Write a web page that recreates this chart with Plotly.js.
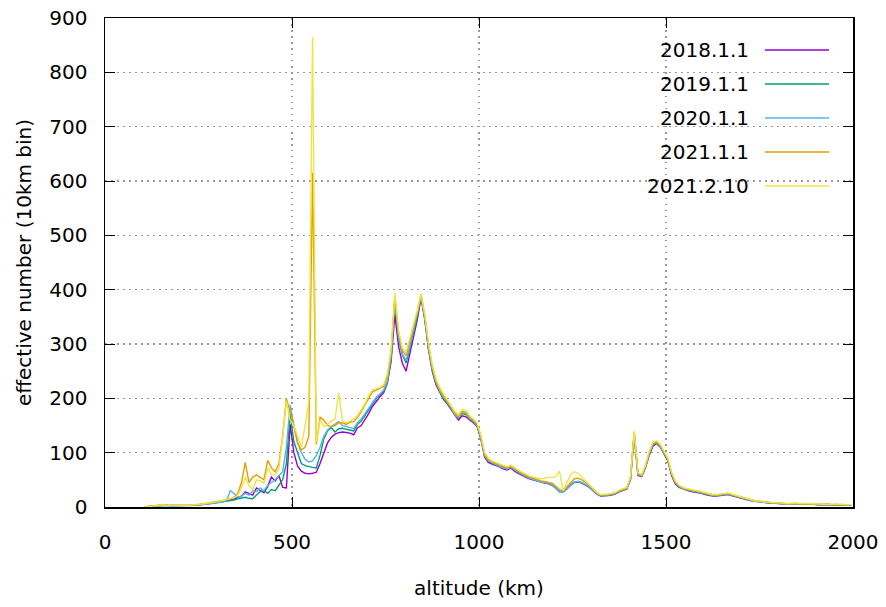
<!DOCTYPE html>
<html>
<head>
<meta charset="utf-8">
<script src="https://cdn.plot.ly/plotly-3.0.1.min.js"></script>
<style>html,body{margin:0;padding:0;background:#fff;}#chart{width:886px;height:607px;}</style>
</head>
<body>
<div id="chart"></div>
<script>
// altitude bin centres (km), 10 km bins
const altitude = [
105,115,125,135,145,155,165,175,185,195,
205,215,225,235,245,255,265,275,285,295,
305,315,325,335,345,355,365,375,385,395,
405,415,425,435,445,455,465,475,485,495,
505,515,525,535,545,555,565,575,585,595,
605,615,625,635,645,655,665,675,685,695,
705,715,725,735,745,755,765,775,785,795,
805,815,825,835,845,855,865,875,885,895,
905,915,925,935,945,955,965,975,985,995,
1005,1015,1025,1035,1045,1055,1065,1075,1085,1095,
1105,1115,1125,1135,1145,1155,1165,1175,1185,1195,
1205,1215,1225,1235,1245,1255,1265,1275,1285,1295,
1305,1315,1325,1335,1345,1355,1365,1375,1385,1395,
1405,1415,1425,1435,1445,1455,1465,1475,1485,1495,
1505,1515,1525,1535,1545,1555,1565,1575,1585,1595,
1605,1615,1625,1635,1645,1655,1665,1675,1685,1695,
1705,1715,1725,1735,1745,1755,1765,1775,1785,1795,
1805,1815,1825,1835,1845,1855,1865,1875,1885,1895,
1905,1915,1925,1935,1945,1955,1965,1975,1985,1995];

const s2018 = [
0,1,1,2,3,3,3,2,2,2,
2,2,3,3,4,4,5,6,7,8,
9,10,12,13,15,17,20,28,25,22,
35,30,26,38,55,48,58,36,35,152,
100,75,66,62,61,62,64,80,100,118,
128,134,137,138,137,136,133,146,150,160,
172,185,195,203,210,228,268,355,295,265,
250,282,315,345,385,345,290,250,225,210,
198,190,180,168,160,168,166,160,155,148,
125,92,82,79,77,74,70,68,72,66,
62,58,55,52,50,47,45,44,43,40,
35,28,28,33,40,45,46,44,40,36,
30,24,20,20,21,22,24,28,31,33,
50,132,58,56,72,95,112,117,110,98,
85,58,42,36,33,31,29,28,27,25,
23,21,20,20,21,22,23,21,19,17,
15,13,12,11,10,9,8,8,7,7,
6,6,6,5,6,6,5,5,5,5,
4,4,5,4,4,3,4,4,3,3];

const s2019 = [
0,1,1,2,2,3,3,2,2,2,
2,2,2,3,3,4,5,5,6,7,
8,9,10,12,13,15,16,18,16,15,
22,28,30,25,32,30,40,50,80,172,
120,100,80,76,74,73,72,95,125,140,
146,138,144,145,143,142,140,152,158,168,
178,190,200,207,213,230,275,380,310,280,
265,292,322,350,388,348,292,252,228,212,
200,192,182,170,163,172,170,162,157,150,
128,95,85,81,78,75,72,70,74,68,
64,60,56,53,51,48,46,45,44,41,
35,29,29,34,41,46,47,45,41,37,
31,25,21,21,22,23,25,29,32,34,
52,135,60,57,73,97,114,118,111,99,
86,60,44,37,34,32,30,29,28,26,
24,22,21,21,22,23,24,22,20,18,
16,14,12,11,10,9,9,8,7,7,
6,6,6,6,6,6,5,6,5,5,
5,4,5,5,4,4,4,4,4,3];

const s2020 = [
0,1,1,2,2,3,3,2,2,2,
2,2,3,3,4,4,5,6,6,7,
8,9,12,30,25,18,20,25,22,30,
28,35,30,40,45,50,58,65,110,188,
150,118,100,88,83,85,95,110,130,142,
148,152,157,150,148,146,144,155,162,172,
182,193,202,208,215,232,278,385,312,282,
270,295,325,352,388,350,294,254,230,214,
202,193,183,171,164,174,172,163,158,150,
128,95,85,81,78,75,72,70,73,68,
64,60,56,53,51,48,46,45,44,41,
35,28,28,34,41,46,47,45,41,37,
31,25,21,21,22,23,25,29,32,34,
52,136,60,57,74,98,115,119,112,100,
87,61,45,38,34,32,30,29,28,26,
24,22,21,21,22,23,24,22,20,18,
16,14,12,11,10,9,9,8,7,7,
6,6,6,6,6,6,5,6,5,5,
5,4,5,5,4,4,4,4,4,3];

const s2021a = [
0,1,1,2,3,4,3,3,2,2,
2,3,3,4,4,5,6,7,8,9,
10,12,14,15,18,25,45,82,45,55,
59,55,50,86,72,65,80,130,200,175,
150,118,105,110,130,615,115,165,160,150,
148,150,155,155,152,156,157,165,175,188,
200,212,215,218,222,240,285,388,320,288,
278,305,330,358,392,352,298,258,232,216,
204,195,185,173,166,176,174,165,160,152,
130,97,87,83,80,77,74,72,75,70,
66,62,58,55,53,50,48,47,46,44,
38,32,30,38,46,52,53,50,45,40,
33,26,22,22,23,24,26,30,33,35,
53,138,62,58,75,100,117,120,113,101,
88,62,46,39,35,33,31,30,29,27,
25,23,22,22,23,24,25,23,21,19,
17,15,13,12,11,10,9,8,8,7,
7,6,6,6,7,6,6,6,5,5,
5,5,5,5,4,5,4,4,4,4];

const s2021b = [
0,1,2,2,3,4,3,3,2,2,
2,3,3,4,4,5,6,7,8,9,
10,12,14,15,17,22,35,55,40,32,
50,48,44,72,60,58,70,129,195,160,
150,130,110,150,195,865,120,160,148,152,
158,162,210,157,155,158,162,168,178,190,
205,215,218,220,225,245,290,394,325,292,
285,310,335,362,392,355,302,262,236,220,
208,198,188,176,170,180,178,168,162,155,
132,100,90,85,82,79,76,74,77,72,
68,64,60,57,55,53,52,53,55,54,
56,66,30,45,60,65,62,55,48,42,
34,27,23,23,24,25,27,31,34,36,
55,140,63,60,77,102,119,122,115,103,
90,64,48,40,36,34,32,31,30,28,
26,24,23,23,24,25,26,24,22,20,
18,15,13,12,11,10,9,9,8,8,
7,7,6,7,7,6,7,6,6,6,
6,5,5,6,5,5,5,5,4,5];

const seriesNames = ["2018.1.1", "2019.1.1", "2020.1.1", "2021.1.1", "2021.2.10"];
const seriesValues = [s2018, s2019, s2020, s2021a, s2021b];
const seriesColors = ["#9400d3", "#009e73", "#56b4e9", "#e69f00", "#f0e442"];

const xTickVals = [0, 500, 1000, 1500, 2000];
const yTickVals = [0, 100, 200, 300, 400, 500, 600, 700, 800, 900];

const FONT = "DejaVu Sans, sans-serif";

const traces = seriesValues.map((vals, i) => ({
  type: "scatter",
  mode: "lines",
  x: altitude,
  y: vals,
  name: seriesNames[i],
  line: {color: seriesColors[i], width: 1.4},
  hoverinfo: "skip"
}));

// gnuplot-style legend: right-aligned text, line sample to its right
const L = 105, R = 33, T = 18, B = 100, W = 886, H = 607;
const pw = W - L - R, ph = H - T - B;
const annotations = [], shapes = [];
seriesNames.forEach((nm, i) => {
  const py = 50 + 34 * i;
  const yp = (H - B - py) / ph;
  annotations.push({
    xref: "paper", yref: "paper", x: (751 - L) / pw, y: yp,
    xanchor: "right", yanchor: "middle", showarrow: false,
    text: nm, font: {family: FONT, size: 20, color: "#000"}
  });
  shapes.push({
    type: "line", xref: "paper", yref: "paper",
    x0: (765 - L) / pw, x1: (829 - L) / pw, y0: yp, y1: yp,
    line: {color: seriesColors[i], width: 1.5}
  });
});

const layout = {
  width: W, height: H,
  margin: {l: L, r: R, t: T, b: B},
  paper_bgcolor: "#fff", plot_bgcolor: "#fff",
  showlegend: false,
  font: {family: FONT, size: 20, color: "#000"},
  xaxis: {
    range: [0, 2000], tickvals: xTickVals, ticktext: xTickVals.map(String),
    ticks: "inside", ticklen: 10, tickwidth: 1, tickcolor: "#000",
    mirror: "allticks", showline: true, linecolor: "#000", linewidth: 1.5,
    showgrid: true, gridcolor: "#999999", griddash: "1.5px,4.5px", gridwidth: 1.2,
    zeroline: false, ticklabelstandoff: 16,
    tickfont: {family: FONT, size: 20, color: "#000"},
    title: {text: "altitude (km)", font: {family: FONT, size: 20, color: "#000"}, standoff: 28}
  },
  yaxis: {
    range: [0, 900], tickvals: yTickVals, ticktext: yTickVals.map(String),
    ticks: "inside", ticklen: 10, tickwidth: 1, tickcolor: "#000",
    mirror: "allticks", showline: true, linecolor: "#000", linewidth: 1.5,
    showgrid: true, gridcolor: "#999999", griddash: "1.5px,4.5px", gridwidth: 1.2,
    zeroline: false, ticklabelstandoff: 12,
    tickfont: {family: FONT, size: 20, color: "#000"},
    title: {text: "effective number (10km bin)", font: {family: FONT, size: 20, color: "#000"}, standoff: 12}
  },
  annotations: annotations,
  shapes: shapes
};

Plotly.newPlot("chart", traces, layout, {staticPlot: true, displayModeBar: false});
</script>
</body>
</html>
